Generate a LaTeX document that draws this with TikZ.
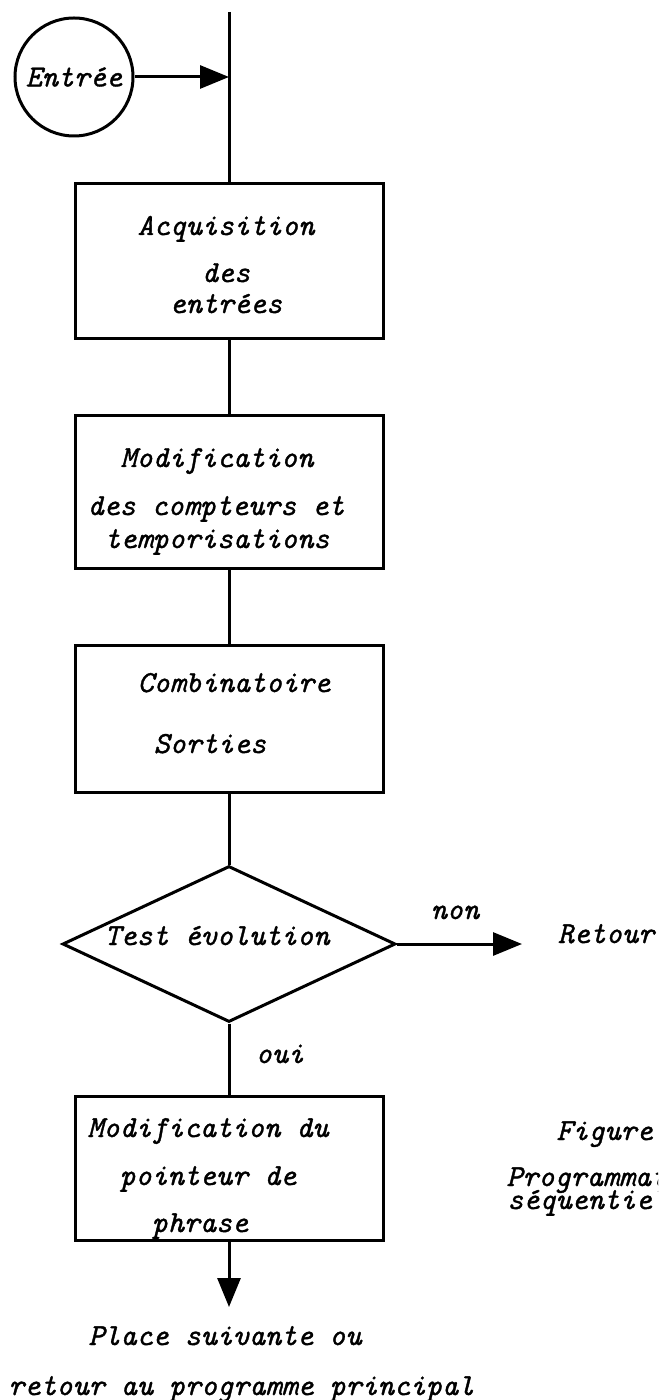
\documentclass[tikz,border=0pt]{standalone}
\usepackage{fontspec}
\setmonofont{lmmono10-regular.otf}[ItalicFont=lmmono10-italic.otf,ItalicFeatures={FakeBold=1.2}]
\usetikzlibrary{arrows.meta,shapes.geometric}
\begin{document}
\begin{tikzpicture}[x=0.5pt,y=-0.5pt,
  ln/.style={line width=1.5pt},
  lblfont/.style={font=\ttfamily\itshape\fontsize{15.3}{18}\selectfont},
  box/.style={draw,line width=1.5pt,minimum width=154pt,minimum height=#1,inner sep=0pt},
  txt/.style={lblfont,inner sep=0pt,anchor=base},
  tip/.style={-{Triangle[length=14.5pt,width=11.5pt]}}]
\useasboundingbox (0,0) rectangle (658,1400);
\clip (0,0) rectangle (658,1400);

% shapes
\node[circle,draw,ln,minimum size=59pt,inner sep=0pt,lblfont] (entree) at (74,77) {Entrée};
\coordinate (top) at (229,12);
\coordinate (join) at (229,77);
\node[box=77.5pt] (b1) at (229,261.5) {};
\node[box=76pt] (b2) at (229,492) {};
\node[box=73.5pt] (b3) at (229,718.5) {};
\node[diamond,draw,ln,minimum width=166.5pt,minimum height=78pt,inner sep=0pt] (test) at (229,944) {};
\node[box=72pt] (b4) at (229,1168) {};
\coordinate (ret) at (522,944);
\coordinate (suite) at (229,1307);

% connectors
\draw[ln] (top) -- (b1.north);
\draw[ln,tip] (entree) -- (join);
\draw[ln] (b1) -- (b2);
\draw[ln] (b2) -- (b3);
\draw[ln] (b3) -- (test);
\draw[ln] (test) -- (b4);
\draw[ln,tip] (test.east) -- (ret);
\draw[ln,tip] (b4) -- (suite);

% texts
\node[txt] (t1a) at (226,235) {Acquisition};
\node[txt] (t1b) at (226,282) {des};
\node[txt] (t1c) at (226,313) {entrées};
\node[txt] (t2a) at (217,467) {Modification};
\node[txt] (t2b) at (216,515) {des compteurs et};
\node[txt] (t2c) at (217,548) {temporisations};
\node[txt] (t3a) at (234,692) {Combinatoire};
\node[txt] (t3b) at (210,753) {Sorties};
\node[txt] (t4) at (217,945) {Test évolution};
\node[txt] (oui) at (280,1063) {oui};
\node[txt] (non) at (455,919) {non};
\node[txt] (retour) at (606,943) {Retour};
\node[txt] (t5a) at (208,1137) {Modification du};
\node[txt] (t5b) at (208,1185) {pointeur de};
\node[txt] (t5c) at (200,1232) {phrase};
\node[txt,anchor=base west] (p1) at (88,1345) {Place suivante ou};
\node[txt,anchor=base west] (p2) at (8,1395) {retour au programme principal};
\node[txt,anchor=base west] (fig) at (556,1140) {Figure};
\node[txt,anchor=base west] (prog) at (506,1186) {Programmation};
\node[txt,anchor=base west] (seq) at (507,1209) {séquentielle};
\end{tikzpicture}
\end{document}
